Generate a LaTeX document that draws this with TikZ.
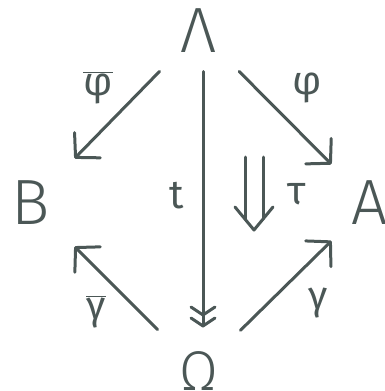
\documentclass[tikz,border=0pt]{standalone}
\usepackage{fontspec}
\setmainfont{Fira Sans}
\newfontfamily\objfont{Fira Sans Light}
\usetikzlibrary{arrows.meta}
\definecolor{slate}{RGB}{75,87,86}

\begin{document}
\begin{tikzpicture}[x=1pt, y=-1pt, line width=3pt, line cap=round, line join=round,
    every node/.style={text=slate, inner sep=0pt},
    obj/.style={font=\objfont\fontsize{64}{64}\selectfont},
    lbl/.style={font=\fontsize{40}{40}\selectfont},
    map/.style={draw=slate, -{Straight Barb[length=17pt, width=36pt, round]}},
    tmap/.style={draw=slate, -{Straight Barb[length=8pt, width=24pt, round] Straight Barb[length=8pt, width=24pt, round]}}]
        % --- 1. Parameters ---
        \def\tauGap{9}
        \useasboundingbox (0,0) rectangle (384,391);

        % --- 2. Objects ---
        \node[obj, minimum width=80pt, minimum height=78pt] (L) at (199,31) {Λ};
        \node[obj, minimum width=84pt, minimum height=110pt] (B) at (31,203) {B};
        \node[obj, minimum width=74pt, minimum height=110pt] (A) at (370,203) {A};
        \node[obj, font=\objfont\fontsize{56}{56}\selectfont, minimum width=80pt, minimum height=84pt] (O) at (199,371) {Ω};

        % --- 3. Maps ---
        \draw[map] (L) -- (B);
        \draw[map] (L) -- (A);
        \draw[map] (O) -- (B);
        \draw[map] (O) -- (A);
        \draw[tmap] ([xshift=4pt]L.south) -- ([xshift=4pt]O.north);

        % 2-cell
        \coordinate (tauT) at (254,157);
        \coordinate (tauH) at (254,230);
        \draw[slate] ([xshift=-\tauGap]tauT) -- ([shift={(-\tauGap,-11)}]tauH);
        \draw[slate] ([xshift=\tauGap]tauT) -- ([shift={(\tauGap,-11)}]tauH);
        \draw[slate] ([shift={(-19,-23)}]tauH) -- (tauH) -- ([shift={(19,-23)}]tauH);

        % --- 4. Labels ---
        \node[lbl] (phib) at (98,88) {$\overline{\mbox{φ}}$};
        \node[lbl] (phi) at (307,88) {φ};
        \node[lbl] (gamb) at (96,312) {$\overline{\mbox{γ}}$};
        \node[lbl] (gam) at (318,303) {γ};
        \node[lbl] (t) at (177,196) {t};
        \node[lbl] (tau) at (297,194) {τ};
\end{tikzpicture}
\end{document}
